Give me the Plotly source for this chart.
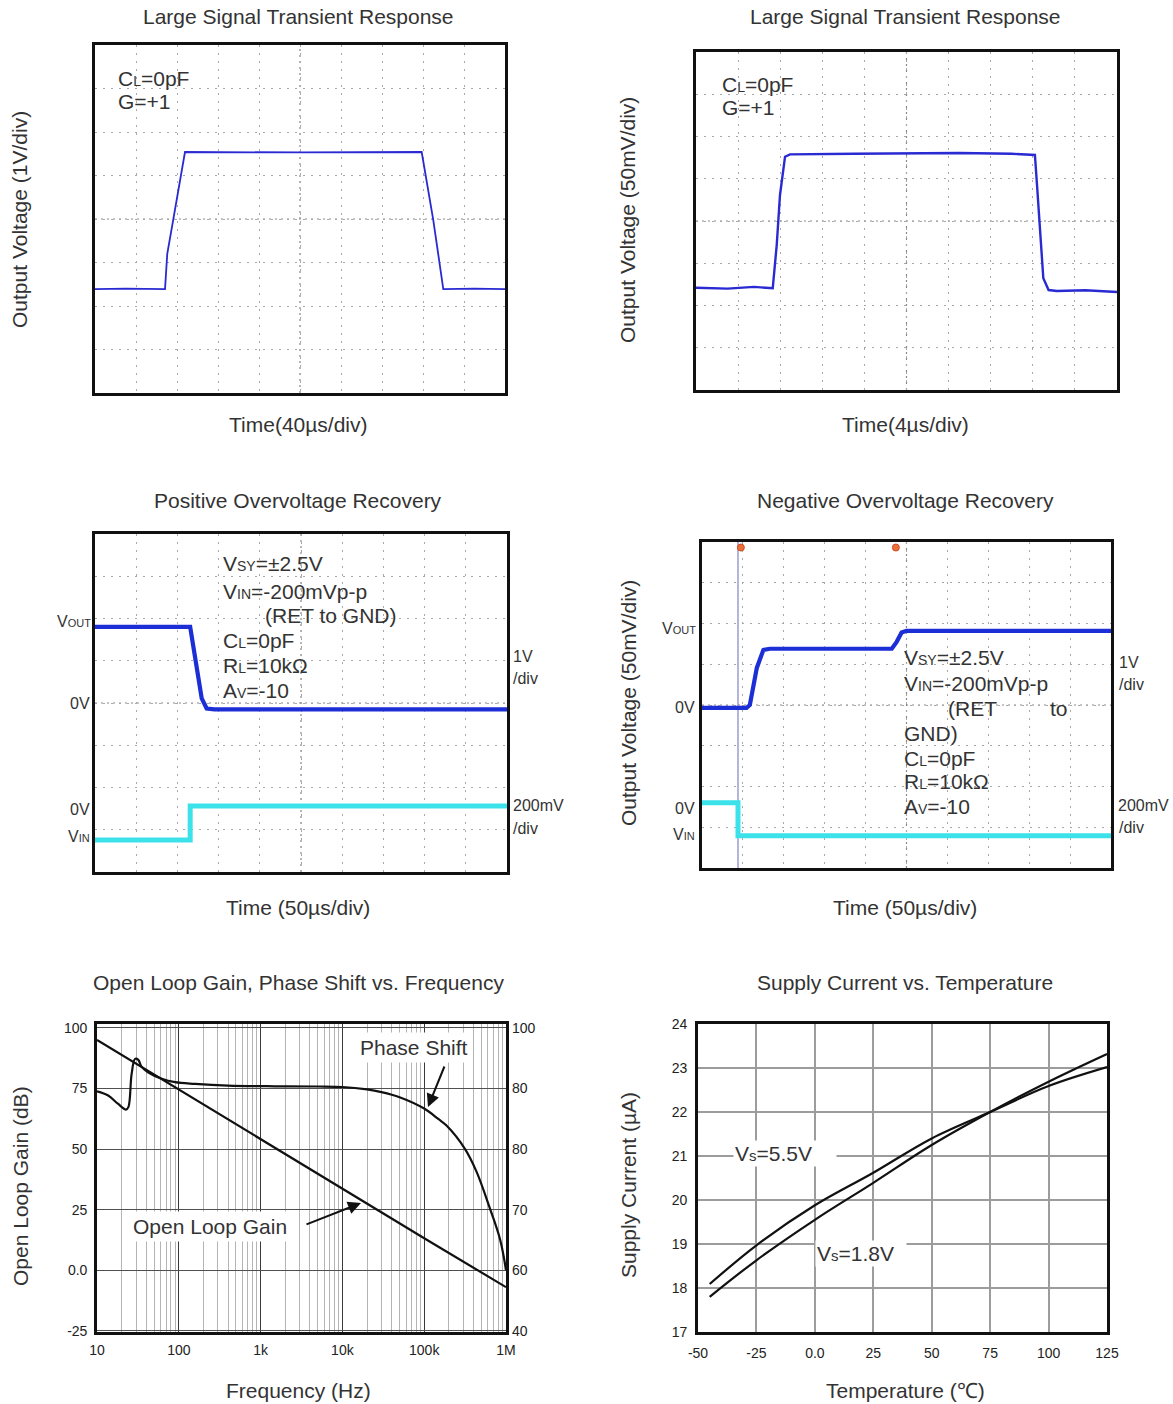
import plotly.graph_objects as go

W, H = 1173, 1404
FONT = "Liberation Sans, Arial, sans-serif"
TXT = "#333333"
SCOPE_GRID = "#a8a8a8"
BLUE = "#2a2ad2"
BLUE_THICK = "#1c2ed6"
CYAN = "#3ce2ea"

# ---------------- data ----------------
# Panel 1: Large Signal Transient Response, 40 us/div, 1 V/div
P1_T = [0, 30, 68.3, 70.5, 76.3, 87.8, 200, 318.7, 330.0, 339.8, 370, 400]
P1_V = [-1.61, -1.60, -1.61, -0.80, -0.02, 1.54, 1.53, 1.54, -0.02, -1.61, -1.60, -1.61]

# Panel 2: Large Signal Transient Response, 4 us/div, 50 mV/div
P2_T = [0, 3.0, 5.5, 7.29, 7.67, 7.98, 8.46, 8.93, 15, 20, 25, 30, 32.2, 32.4, 32.7, 33.0, 33.5, 34.3, 37, 40]
P2_V = [-79, -80, -78, -79.6, -28.4, 30.8, 76.1, 78.9, 79.5, 80, 80.5, 79.5, 78.1, 42.6, -12.7, -67.8, -81.7, -82.8, -82, -84]

# Panel 3: Positive Overvoltage Recovery, 50 us/div
P3_T_OUT = [0, 115.5, 129.5, 135.5, 145, 300, 500]
P3_VOUT = [1.80, 1.80, 0.11, -0.13, -0.15, -0.14, -0.15]          # V (1 V/div)
P3_T_IN = [0, 115.5, 115.5, 500]
P3_VIN = [-160, -160, 0, 0]                                         # mV (200 mV/div)

# Panel 4: Negative Overvoltage Recovery, 50 us/div
P4_T_OUT = [0, 54.5, 58.5, 67, 75, 83, 232, 238, 244, 250, 500]
P4_VOUT = [0, 0, 0.07, 0.98, 1.42, 1.45, 1.45, 1.62, 1.85, 1.89, 1.89]   # V
P4_T_IN = [0, 44, 44, 500]
P4_VIN = [26, 26, -136, -136]                                           # mV
P4_CURSOR_T = 44
P4_MARK_T = [47.5, 237]

# Panel 5: Open Loop Gain, Phase Shift vs Frequency
GAIN_F = [10, 100, 1e3, 1e4, 1e5, 1e6]
GAIN_DB = [95, 74.5, 54, 33.6, 13.2, -7]
PHASE_F = [10, 13.7, 18, 22.6, 24.2, 26.5, 29.2, 32, 35, 42, 62, 90, 158, 400,
           1500, 5000, 10000, 20000, 30000, 50000, 100000, 150000, 186000,
           316000, 436000, 631000, 851000, 1000000]
PHASE = [73.8, 72.1, 68.7, 66.3, 67.3, 81, 87.2, 86.8, 84, 81.7, 79, 77.6, 76.9, 76.2,
         75.9, 75.8, 75.6, 74.6, 73.5, 71.4, 66.7, 62.3, 59.8,
         50, 40.7, 25.8, 12.4, 0]
FREQ_TICKS = [10, 100, 1e3, 1e4, 1e5, 1e6]
FREQ_LABELS = ["10", "100", "1k", "10k", "100k", "1M"]
FREQ_MINOR = [m * d for d in [10, 100, 1e3, 1e4, 1e5] for m in range(2, 10)]
GAIN_TICKS = [100, 75, 50, 25, 0, -25]
GAIN_LABELS = ["100", "75", "50", "25", "0.0", "-25"]
PHASE_LABELS = ["100", "80", "80", "70", "60", "40"]

# Panel 6: Supply Current vs Temperature
TEMP = [-45, -25, 0, 25, 50, 75, 100, 125]
I_55 = [18.09, 18.97, 19.88, 20.62, 21.40, 22.0, 22.59, 23.02]
I_18 = [17.80, 18.63, 19.55, 20.39, 21.25, 22.0, 22.69, 23.32]
TEMP_TICKS = [-50, -25, 0, 25, 50, 75, 100, 125]
TEMP_LABELS = ["-50", "-25", "0.0", "25", "50", "75", "100", "125"]
CUR_TICKS = [17, 18, 19, 20, 21, 22, 23, 24]


def xd(a, b):
    return [a / W, b / W]


def yd(top, bot):
    return [1 - bot / H, 1 - top / H]


def PX(x):
    return x / W


def PY(y):
    return 1 - y / H


def sm(s, size=14):
    return f"<span style='font-size:{size}px'>{s}</span>"


fig = go.Figure()


def line_trace(x, y, xa, ya, color, width, shape="linear"):
    fig.add_trace(go.Scatter(x=x, y=y, mode="lines", line=dict(color=color, width=width, shape=shape),
                             xaxis=xa, yaxis=ya, hoverinfo="skip", showlegend=False))


line_trace(P1_T, P1_V, "x", "y", BLUE, 1.8)
line_trace(P2_T, P2_V, "x2", "y2", BLUE, 2.4)
line_trace(P3_T_OUT, P3_VOUT, "x3", "y3", BLUE_THICK, 4.2)
line_trace(P3_T_IN, P3_VIN, "x3", "y8", CYAN, 5)
line_trace(P4_T_OUT, P4_VOUT, "x4", "y4", BLUE_THICK, 4.2)
line_trace(P4_T_IN, P4_VIN, "x4", "y9", CYAN, 5)
line_trace(GAIN_F, GAIN_DB, "x5", "y5", "#111", 2.2)
line_trace(PHASE_F, PHASE, "x5", "y5", "#111", 2.2, "spline")
line_trace(TEMP, I_55, "x6", "y6", "#111", 2.2, "spline")
line_trace(TEMP, I_18, "x6", "y6", "#111", 2.2, "spline")


def scope_axis(dom, rng, dtick, anchor, tick0=None):
    return dict(domain=dom, range=rng, dtick=dtick, tick0=rng[0] if tick0 is None else tick0,
                showgrid=True, gridcolor=SCOPE_GRID, griddash="2px,6px", gridwidth=1, zeroline=False,
                showticklabels=False, ticks="", showline=True, linecolor="#111",
                linewidth=2.6, mirror=True, anchor=anchor, fixedrange=True, automargin=False)


TICKFONT = dict(family=FONT, size=14, color="#222")

layout_axes = dict(
    xaxis=scope_axis(xd(95, 505), [0, 400], 40, "y"),
    yaxis=scope_axis(yd(45, 393), [-4, 4], 1, "x"),
    xaxis2=scope_axis(xd(696, 1117), [0, 40], 4, "y2"),
    yaxis2=scope_axis(yd(52, 390), [-200, 200], 50, "x2"),
    xaxis3=scope_axis(xd(95, 507), [0, 500], 50, "y3"),
    yaxis3=scope_axis(yd(534, 872), [-4, 4], 1, "x3"),
    yaxis8=dict(overlaying="y3", anchor="x3", range=[-312, 1288], visible=False, automargin=False),
    xaxis4=scope_axis(xd(702, 1111), [0, 500], 50, "y4"),
    yaxis4=scope_axis(yd(542, 868), [-3.93, 4.07], 1, "x4", tick0=0.07),
    yaxis9=dict(overlaying="y4", anchor="x4", range=[-294, 1306], visible=False, automargin=False),
    # open loop gain
    xaxis5=dict(domain=xd(97, 506), type="log", range=[1, 6], anchor="y5",
                tickvals=FREQ_TICKS, ticktext=FREQ_LABELS, showgrid=True, gridcolor="#3a3a3a",
                gridwidth=1.3, ticks="", ticklabelstandoff=3, tickfont=TICKFONT, showline=True,
                linecolor="#111", linewidth=2.6, mirror=True, zeroline=False, automargin=False,
                fixedrange=True,
                minor=dict(tickvals=FREQ_MINOR, showgrid=True, gridcolor="#b4b4b4", gridwidth=1.2,
                           ticks="")),
    yaxis5=dict(domain=yd(1024, 1332), range=[-25.5, 101.6], anchor="x5",
                tickvals=GAIN_TICKS, ticktext=GAIN_LABELS, showgrid=True, gridcolor="#505050",
                gridwidth=1.2, ticks="", ticklabelstandoff=4, tickfont=TICKFONT, showline=True,
                linecolor="#111", linewidth=2.6, mirror=True, zeroline=False, automargin=False,
                fixedrange=True),
    # supply current
    xaxis6=dict(domain=xd(698, 1107), range=[-50, 125], anchor="y6", tickvals=TEMP_TICKS,
                ticktext=TEMP_LABELS, showgrid=True, gridcolor="#9c9c9c", gridwidth=1.5, ticks="",
                ticklabelstandoff=6, tickfont=TICKFONT, showline=True, linecolor="#111",
                linewidth=2.6, mirror=True, zeroline=False, automargin=False, fixedrange=True),
    yaxis6=dict(domain=yd(1024, 1332), range=[17, 24], anchor="x6", tickvals=CUR_TICKS,
                showgrid=True, gridcolor="#9c9c9c", gridwidth=1.5, ticks="", ticklabelstandoff=5,
                tickfont=TICKFONT, showline=True, linecolor="#111", linewidth=2.6, mirror=True,
                zeroline=False, automargin=False, fixedrange=True),
)

# ---- shapes: scope centre lines, cursor, markers ----
shapes = []
for xa, ya in [("x", "y"), ("x2", "y2"), ("x3", "y3"), ("x4", "y4")]:
    shapes.append(dict(type="line", xref=f"{xa} domain", yref=f"{ya} domain", x0=0.5, x1=0.5,
                       y0=0, y1=1, line=dict(color="#8a8a8a", width=1.2, dash="2px,4px"), layer="below"))
    shapes.append(dict(type="line", xref=f"{xa} domain", yref=f"{ya} domain", x0=0, x1=1,
                       y0=0.5, y1=0.5, line=dict(color="#8a8a8a", width=1.2, dash="2px,4px"), layer="below"))
shapes.append(dict(type="line", xref="x4", yref="y4 domain", x0=P4_CURSOR_T, x1=P4_CURSOR_T,
                   y0=0, y1=1, line=dict(color="#8c8cc8", width=1.3), layer="below"))
for t in P4_MARK_T:
    shapes.append(dict(type="circle", xref="x4", xsizemode="pixel", xanchor=t, x0=-3.5, x1=3.5,
                       yref="y4 domain", ysizemode="pixel", yanchor=1, y0=-9, y1=-2,
                       fillcolor="#e8703a", line=dict(color="#d04a20", width=1)))

# ---- annotations ----
ann = []


def A(text, x, y, size=21, xanchor="center", angle=0, color=TXT, **kw):
    d = dict(text=text, x=PX(x), y=PY(y), xref="paper", yref="paper", showarrow=False,
             xanchor=xanchor, yanchor="middle", textangle=angle,
             font=dict(family=FONT, size=size, color=color))
    d.update(kw)
    ann.append(d)


# titles
A("Large Signal Transient Response", 298, 17)
A("Large Signal Transient Response", 905, 17)
A("Positive Overvoltage Recovery", 298, 500)
A("Negative Overvoltage Recovery", 905, 500)
A("Open Loop Gain, Phase Shift vs. Frequency", 298, 982)
A("Supply Current vs. Temperature", 905, 982)
# x labels
A("Time(40µs/div)", 298, 425)
A("Time(4µs/div)", 905, 425)
A("Time (50µs/div)", 298, 907)
A("Time (50µs/div)", 905, 907)
A("Frequency (Hz)", 298, 1390)
A("Temperature (℃)", 905, 1390)
# y labels
A("Output Voltage (1V/div)", 20, 220, angle=-90)
A("Output Voltage (50mV/div)", 628, 220, angle=-90)
A("Output Voltage (50mV/div)", 628, 703, angle=-90)
A("Open Loop Gain (dB)", 20, 1186, angle=-90)
A("Supply Current (µA)", 628, 1185, angle=-90)

# panel 1 / 2 conditions
A("C" + sm("L") + "=0pF", 116, 78, xanchor="left")
A("G=+1", 116, 102, xanchor="left")
A("C" + sm("L") + "=0pF", 720, 84, xanchor="left")
A("G=+1", 720, 108, xanchor="left")

# panel 3 conditions
A("V" + sm("SY") + "=±2.5V", 221, 563, xanchor="left")
A("V" + sm("IN") + "=-200mVp-p", 221, 591, xanchor="left")
A("(RET to GND)", 263, 615, xanchor="left")
A("C" + sm("L") + "=0pF", 221, 640, xanchor="left")
A("R" + sm("L") + "=10kΩ", 221, 665, xanchor="left")
A("A" + sm("V") + "=-10", 221, 690, xanchor="left")
# panel 3 channel labels
A("V" + sm("OUT", 11), 93, 621, size=16, xanchor="right")
A("0V", 92, 703, size=16, xanchor="right")
A("0V", 92, 809, size=16, xanchor="right")
A("V" + sm("IN", 11), 92, 836, size=16, xanchor="right")
A("1V", 511, 656, size=16, xanchor="left")
A("/div", 511, 678, size=16, xanchor="left")
A("200mV", 511, 805, size=16, xanchor="left")
A("/div", 511, 828, size=16, xanchor="left")

# panel 4 conditions
A("V" + sm("SY") + "=±2.5V", 902, 657, xanchor="left")
A("V" + sm("IN") + "=-200mVp-p", 902, 683, xanchor="left")
A("(RET", 946, 708, xanchor="left")
A("to", 1048, 708, xanchor="left")
A("GND)", 902, 733, xanchor="left")
A("C" + sm("L") + "=0pF", 902, 758, xanchor="left")
A("R" + sm("L") + "=10kΩ", 902, 782, xanchor="left")
A("A" + sm("V") + "=-10", 902, 807, xanchor="left")
# panel 4 channel labels
A("V" + sm("OUT", 11), 698, 628, size=16, xanchor="right")
A("0V", 697, 707, size=16, xanchor="right")
A("0V", 697, 808, size=16, xanchor="right")
A("V" + sm("IN", 11), 697, 834, size=16, xanchor="right")
A("1V", 1117, 662, size=16, xanchor="left")
A("/div", 1117, 684, size=16, xanchor="left")
A("200mV", 1116, 805, size=16, xanchor="left")
A("/div", 1117, 827, size=16, xanchor="left")

# panel 5 right-hand (phase) axis labels, attached to the gain scale positions
for v, lab in zip(GAIN_TICKS, PHASE_LABELS):
    ann.append(dict(text=lab, x=1, y=v, xref="x5 domain", yref="y5", showarrow=False,
                    xanchor="left", yanchor="middle", xshift=4,
                    font=dict(family=FONT, size=14, color="#222")))

# panel 5 labels + arrows
A("Phase Shift", 414, 1047, bgcolor="white", borderpad=3)
A("Open Loop Gain", 210, 1226, bgcolor="white", borderpad=3)
ann.append(dict(text="", x=PX(428), y=PY(1107), xref="paper", yref="paper", showarrow=True,
                ax=17, ay=-42, arrowhead=2, arrowsize=1.3, arrowwidth=2, arrowcolor="#111"))
ann.append(dict(text="", x=PX(361), y=PY(1203), xref="paper", yref="paper", showarrow=True,
                ax=-56, ay=22, arrowhead=2, arrowsize=1.3, arrowwidth=2, arrowcolor="#111"))

# panel 6 labels
A("V" + sm("s", 15) + "=5.5V", 733, 1153, xanchor="left", bgcolor="white", width=100, align="left")
A("V" + sm("s", 15) + "=1.8V", 815, 1253, xanchor="left", bgcolor="white", width=88, align="left")

fig.update_layout(
    width=W, height=H, margin=dict(l=0, r=0, t=0, b=0, autoexpand=False),
    paper_bgcolor="white", plot_bgcolor="white", showlegend=False,
    font=dict(family=FONT, size=14, color=TXT),
    shapes=shapes, annotations=ann, **layout_axes,
)

fig.write_html("out.html", config={"displayModeBar": False},
               post_script="document.body.style.margin='0px';")
